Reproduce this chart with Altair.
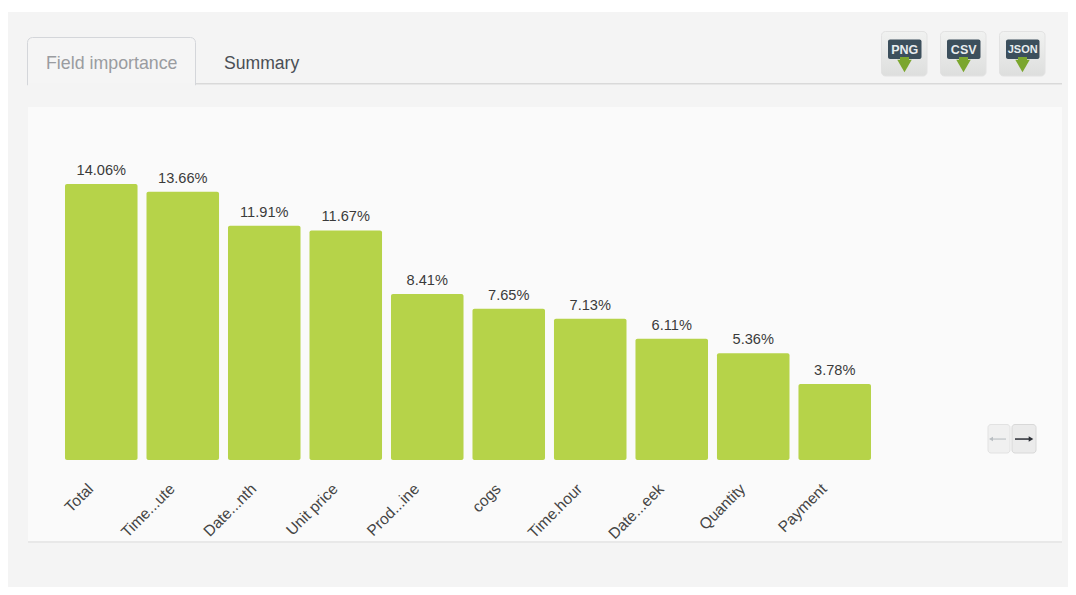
import altair as alt
import pandas as pd

fields = ["Total", "Time...ute", "Date...nth", "Unit price", "Prod...ine",
          "cogs", "Time.hour", "Date...eek", "Quantity", "Payment"]
importance = [14.06, 13.66, 11.91, 11.67, 8.41, 7.65, 7.13, 6.11, 5.36, 3.78]
labels = ["14.06%", "13.66%", "11.91%", "11.67%", "8.41%", "7.65%", "7.13%", "6.11%", "5.36%", "3.78%"]
tabs = ["Field importance", "Summary"]
buttons = ["PNG", "CSV", "JSON"]

FONT = "Liberation Sans"
one = alt.Data(values=[{}])
df = pd.DataFrame({"field": fields, "importance": importance, "label": labels})
axis_floor = -0.123


def box(x0, y0, x1, y1, fill, **kw):
    return alt.Chart(one).mark_rect(fill=fill, **kw).encode(
        x=alt.value(x0 - 8), x2=alt.value(x1 - 8), y=alt.value(y0 - 8), y2=alt.value(y1 - 8))


def caption(x, y, text, **kw):
    return alt.Chart(one).mark_text(text=text, font=FONT, **kw).encode(
        x=alt.value(x - 8), y=alt.value(y - 8))


def glyph(x, y, shape, size, color):
    return alt.Chart(one).mark_point(shape=shape, size=size, filled=True, fill=color, opacity=1, strokeWidth=0).encode(
        x=alt.value(x - 8), y=alt.value(y - 8))


button_fill = alt.Gradient(gradient="linear", x1=0, x2=0, y1=0, y2=1, stops=[
    alt.GradientStop(color="#f1f2f1", offset=0),
    alt.GradientStop(color="#dddedd", offset=1),
])

chrome = [
    box(8, 12, 1076, 595, "#f4f4f4"),
    # tabs
    box(196, 83, 1062, 84.5, "#d9d9d9"),
    box(27.5, 37.5, 195.5, 85, "#f5f5f5", stroke="#d4d6da", strokeWidth=1,
        cornerRadiusTopLeft=5, cornerRadiusTopRight=5),
    box(28, 83.5, 195, 86, "#f4f4f4"),
    caption(46, 64, tabs[0], align="left", fontSize=17.8, color="#9a9ca0"),
    caption(224, 64, tabs[1], align="left", fontSize=17.6, color="#4a4f55"),
    # card
    box(28, 541, 1062, 543, "#e8e8e8"),
    box(28, 107, 1062, 541, "#fafafa"),
]

for (x0, name, fs) in zip([881, 940, 999], buttons, [12.5, 12.5, 11]):
    chrome += [
        box(x0 + 0.5, 31.5, x0 + 46, 76, button_fill, stroke="#e2e2e2", strokeWidth=1, cornerRadius=4),
        box(x0 + 7, 39.5, x0 + 40.5, 59, "#3c4f5c", cornerRadius=2),
        caption(x0 + 23.7, 49.5, name, fontSize=fs, fontWeight="bold", color="#e8ecee", baseline="middle"),
        box(x0 + 19, 57, x0 + 28, 62, "#7ba62e"),
        glyph(x0 + 23.5, 66, "triangle-down", 210, "#7ba62e"),
    ]

chrome += [
    box(988, 424.5, 1010, 453, "#f0f0f0", stroke="#e2e2e2", strokeWidth=1, cornerRadius=3),
    box(1012, 424.5, 1036, 453, "#ebebeb", stroke="#d8d8d8", strokeWidth=1, cornerRadius=3),
    box(991, 438.5, 1006, 439.6, "#b9bec2"),
    glyph(991, 439, "triangle-left", 22, "#b9bec2"),
    box(1015, 438.3, 1031, 439.8, "#2c2f36"),
    glyph(1031, 439, "triangle-right", 28, "#2c2f36"),
]

x = alt.X("field:N", sort=fields, title=None,
          scale=alt.Scale(range=[57, 863], paddingInner=0.11, paddingOuter=0),
          axis=alt.Axis(labelAngle=-45, labelFont=FONT, labelFontSize=15.5, labelColor="#454545",
                        domain=False, ticks=False, labelPadding=21, labelOffset=-15.5,
                        labelOverlap=False, labelLimit=0, zindex=1))
y = alt.Y("importance:Q", axis=None,
          scale=alt.Scale(domain=[axis_floor, 23.1], nice=False, zero=False))

base = alt.Chart(df).encode(x=x, y=y)
bars = base.mark_bar(color="#b6d349", cornerRadius=2).encode(y2=alt.Y2Datum(axis_floor))
texts = base.mark_text(dy=-13, font=FONT, fontSize=14.6, color="#3a3a3a").encode(text="label:N")

chart = alt.layer(*chrome, bars, texts).properties(
    width=1060, height=452,
    padding={"left": 0, "top": 0, "right": 0, "bottom": 127},
    autosize=alt.AutoSizeParams(type="none"),
    background="#ffffff",
).configure_view(strokeWidth=0)

chart.save("out.html", embed_options={"renderer": "svg", "actions": False})
